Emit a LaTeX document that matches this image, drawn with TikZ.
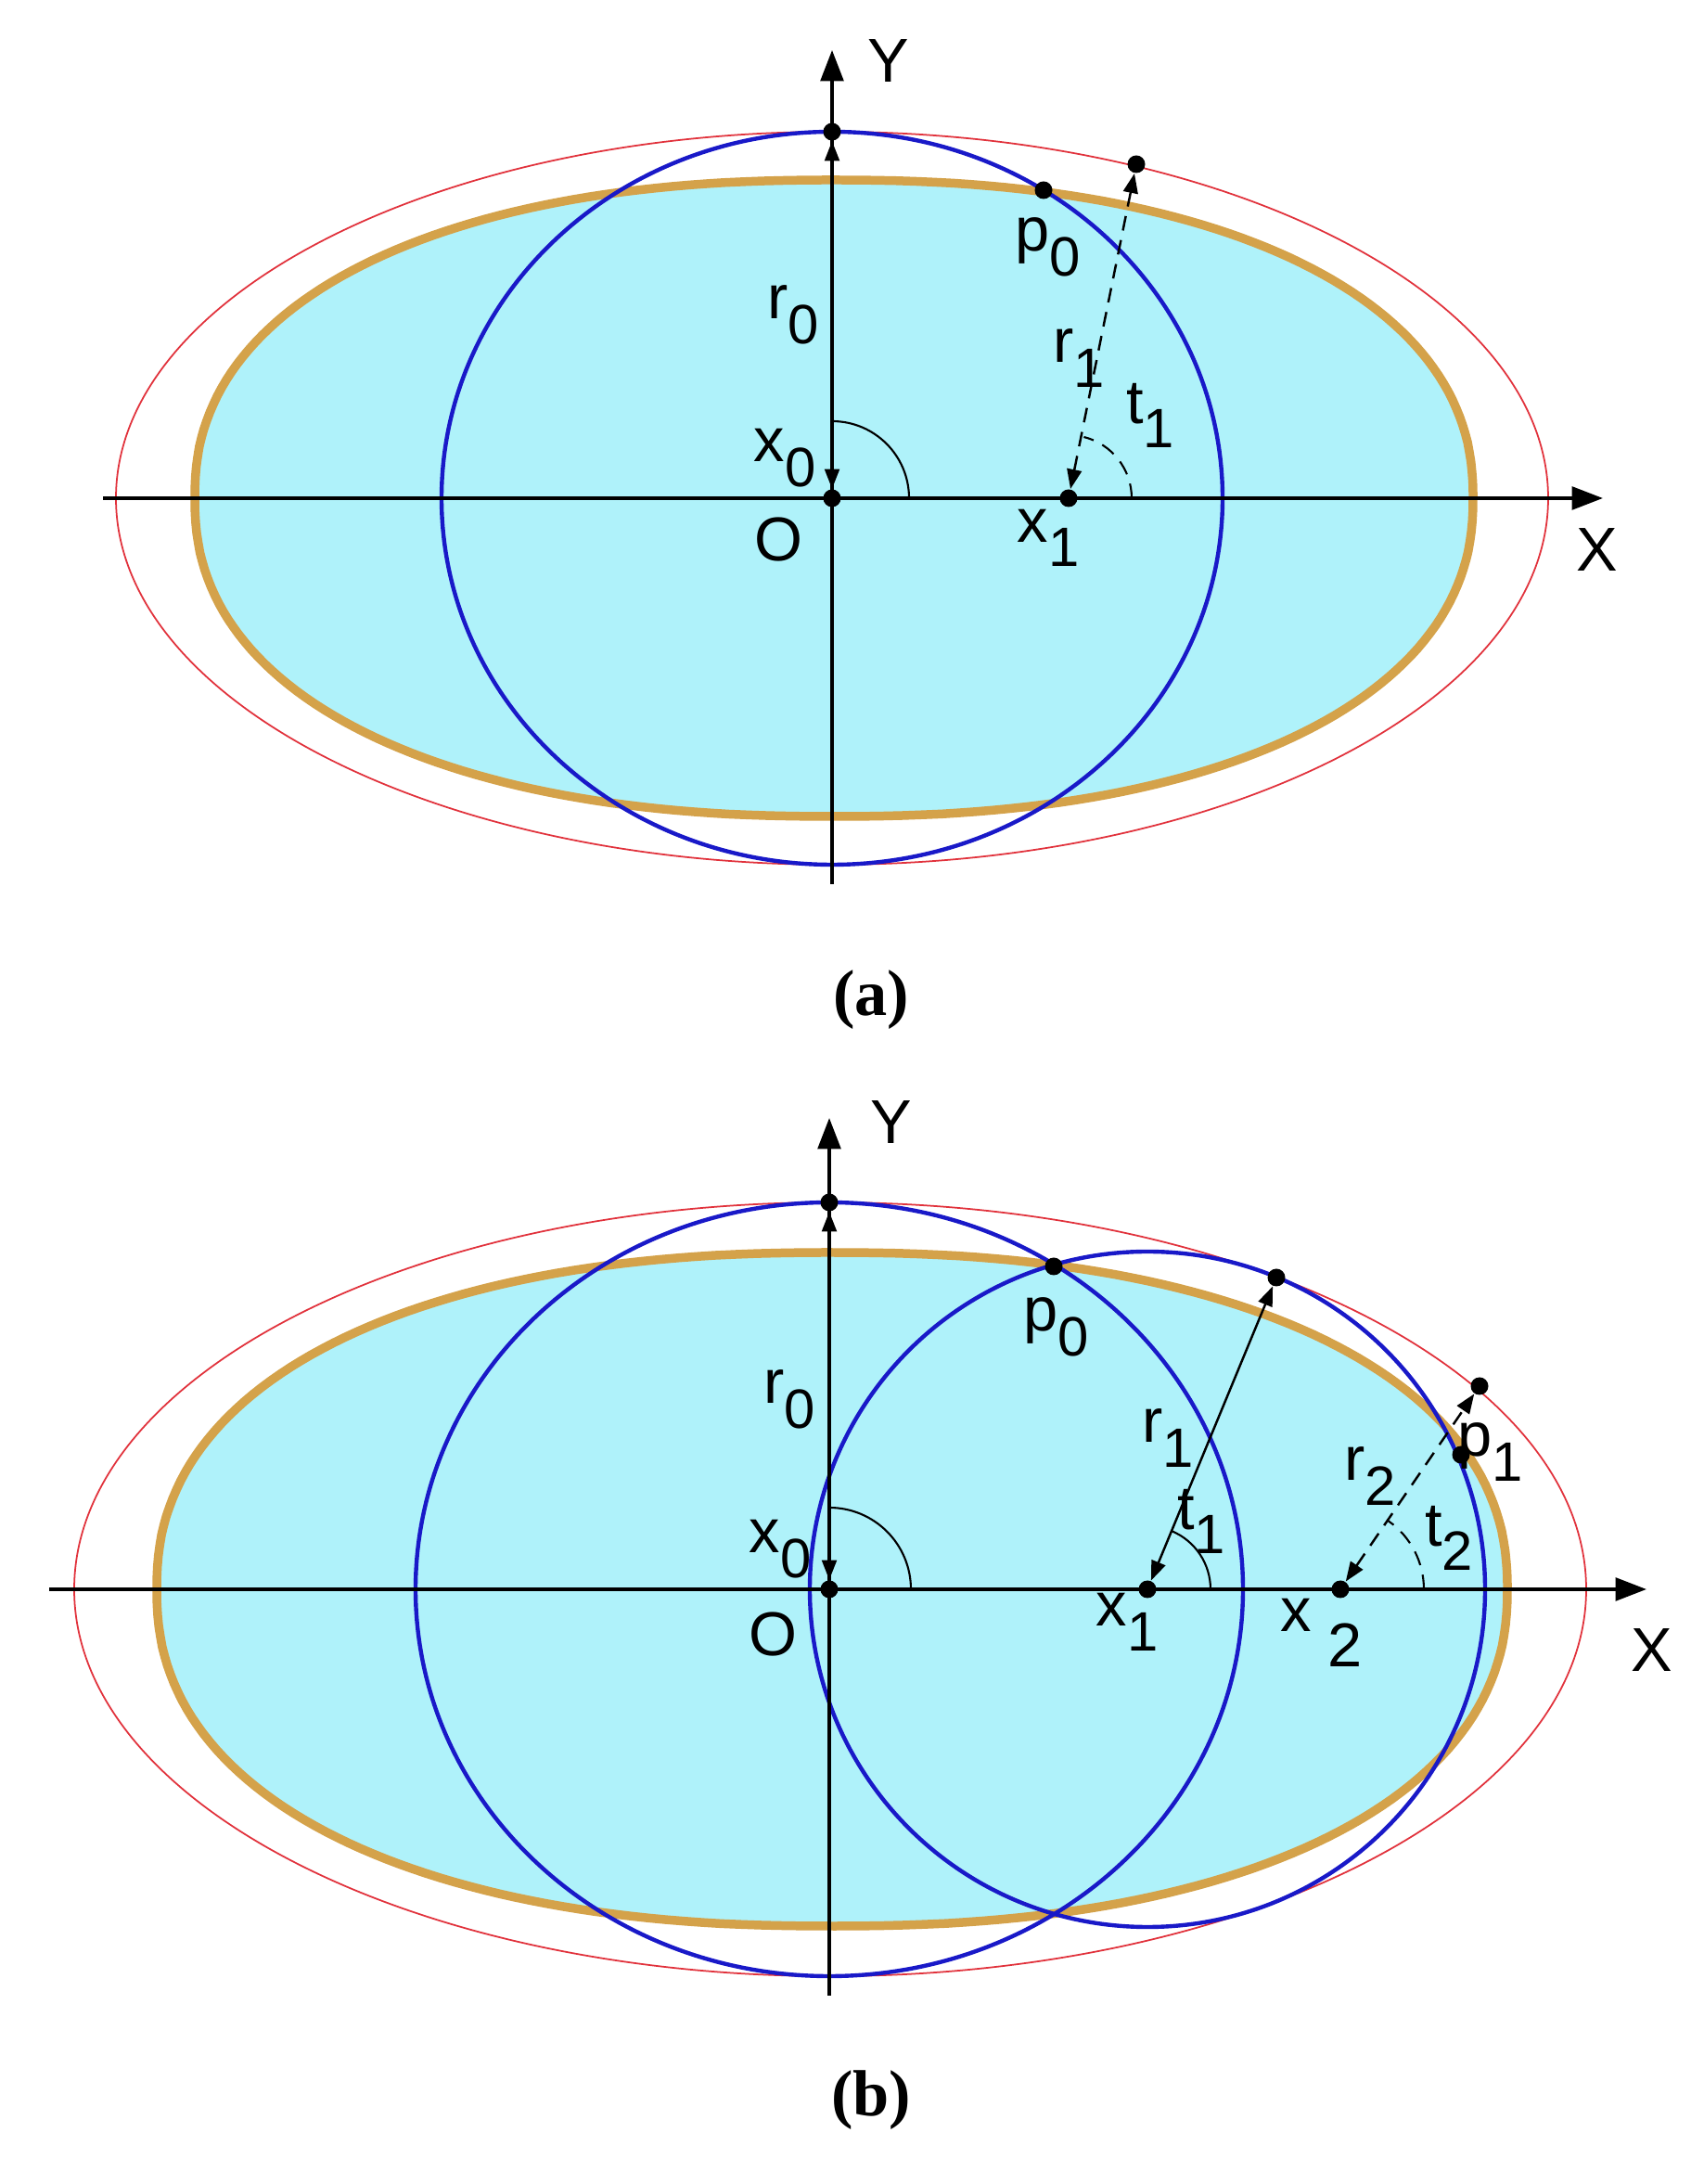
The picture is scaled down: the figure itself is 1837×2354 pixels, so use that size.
\documentclass[tikz,border=0pt]{standalone}
\usepackage{fontspec}
\setmainfont{Liberation Sans}
\newfontfamily\capfont{Liberation Serif}
\usetikzlibrary{arrows.meta}
\definecolor{cyanfill}{RGB}{175,242,250}
\definecolor{tanline}{RGB}{212,162,74}
\definecolor{blueline}{RGB}{25,25,200}
\definecolor{redline}{RGB}{225,50,60}
\newcommand{\sbs}[2]{#1\raisebox{-0.4em}{\fontsize{17}{17}\selectfont #2}}
\newcommand{\blob}[3]{plot[domain=0.5:358.5,samples=240]
  ({#1*sign(cos(\x))*abs(cos(\x))^(2/#3)},{#2*sign(sin(\x))*abs(sin(\x))^(2/#3)}) -- cycle}
\begin{document}
\begin{tikzpicture}[x=0.01cm,y=0.01cm,
    lab/.style={font=\fontsize{19}{22}\selectfont,inner sep=0pt},
    capt/.style={font=\capfont\bfseries\fontsize{20}{24}\selectfont,inner sep=0pt},
    pnt/.style={circle,fill=black,inner sep=0pt,minimum size=5.4pt},
    axisline/.style={line width=1.1pt,-{Triangle[length=9.5pt,width=7pt]}},
    radarrow/.style={line width=0.7pt,{Triangle[length=6pt,width=4.5pt]}-{Triangle[length=6pt,width=4.5pt]}},
    body/.style={draw=tanline,fill=cyanfill,line width=2.7pt},
    redell/.style={draw=redline,line width=0.5pt},
    bluecirc/.style={draw=blueline,line width=1.25pt},
    angarc/.style={line width=0.6pt},
    dashline/.style={dash pattern=on 4.5pt off 3pt}]
  \useasboundingbox (0,0) rectangle (1837,2354);
  \begin{scope}[shift={(897,1817)}]
    \coordinate (C) at (0,0);
    \draw[body,shift={(2,0)}] \blob{689}{343}{2.25};
    \draw[redell] (C) ellipse [x radius=772,y radius=395];
    \draw[bluecirc] (C) ellipse [x radius=421,y radius=395];
    \coordinate (XL) at (-786,0);
    \coordinate (XR) at (831,0);
    \coordinate (YB) at (0,-416);
    \coordinate (YT) at (0,483);
    \draw[axisline] (XL) -- (XR);
    \draw[axisline] (YB) -- (YT);
    \draw[angarc] (83,0) arc (0:90:83);
    \draw[angarc,dashline] (323,0) arc (0:76:68);
    \node[pnt] (O) at (0,0) {};
    \node[pnt] (T) at (0,395) {};
    \node[pnt] (P0) at (228,332) {};
    \node[pnt] (Q1) at (328,360) {};
    \node[pnt] (X1) at (255,0) {};
    \draw[radarrow] (O) -- (T);
    \draw[radarrow,dashline] (X1) -- (Q1);
    \node[lab] (Ylab) at (61,471) {Y};
    \node[lab] (Xlab) at (825,-56) {X};
    \node[lab] (Olab) at (-58,-45) {O};
    \node[lab] (x0lab) at (-51,43) {\sbs{x}{0}};
    \node[lab] (r0lab) at (-42,198) {\sbs{r}{0}};
    \node[lab] (p0lab) at (233,271) {\sbs{p}{0}};
    \node[lab] (r1lab) at (266,151) {\sbs{r}{1}};
    \node[lab] (t1lab) at (343,89) {\sbs{t}{1}};
    \node[lab] (x1lab) at (233,-43) {\sbs{x}{1}};
  \end{scope}
  \node[capt] (capa) at (939,1276) {(a)};
  \begin{scope}[shift={(894,641)}]
    \coordinate (C) at (0,0);
    \draw[body,shift={(3,0)}] \blob{728}{363}{2.25};
    \draw[redell] (1,0) ellipse [x radius=815,y radius=417];
    \draw[bluecirc] (C) ellipse [x radius=446,y radius=417];
    \draw[bluecirc] (343,0) circle [radius=364];
    \coordinate (XL) at (-841,0);
    \coordinate (XR) at (881,0);
    \coordinate (YB) at (0,-438);
    \coordinate (YT) at (0,508);
    \draw[axisline] (XL) -- (XR);
    \draw[axisline] (YB) -- (YT);
    \draw[angarc] (88,0) arc (0:90:88);
    \draw[angarc] (411,0) arc (0:67:68);
    \draw[angarc,dashline] (641,0) arc (0:55:90);
    \node[pnt] (O) at (0,0) {};
    \node[pnt] (T) at (0,417) {};
    \node[pnt] (P0) at (242,348) {};
    \node[pnt] (Q1) at (482,336) {};
    \node[pnt] (X1) at (343,0) {};
    \node[pnt] (P1) at (681,145) {};
    \node[pnt] (Q2) at (701,219) {};
    \node[pnt] (X2) at (551,0) {};
    \draw[radarrow] (O) -- (T);
    \draw[radarrow] (X1) -- (Q1);
    \draw[radarrow,dashline] (X2) -- (Q2);
    \node[lab] (Ylab) at (67,503) {Y};
    \node[lab] (Xlab) at (887,-66) {X};
    \node[lab] (Olab) at (-61,-49) {O};
    \node[lab] (x0lab) at (-53,43) {\sbs{x}{0}};
    \node[lab] (r0lab) at (-43,205) {\sbs{r}{0}};
    \node[lab] (p0lab) at (245,283) {\sbs{p}{0}};
    \node[lab] (r1lab) at (365,163) {\sbs{r}{1}};
    \node[lab] (t1lab) at (401,73) {\sbs{t}{1}};
    \node[lab] (x1lab) at (321,-35) {\sbs{x}{1}};
    \node[lab] (x2lab) at (531,-47) {x\hspace{5pt}\raisebox{-11pt}{2}};
    \node[lab] (r2lab) at (583,122) {\sbs{r}{2}};
    \node[lab] (t2lab) at (668,55) {\sbs{t}{2}};
    \node[lab] (p1lab) at (713,148) {\sbs{p}{1}};
  \end{scope}
  \node[capt] (capb) at (939,90) {(b)};
\end{tikzpicture}
\end{document}
